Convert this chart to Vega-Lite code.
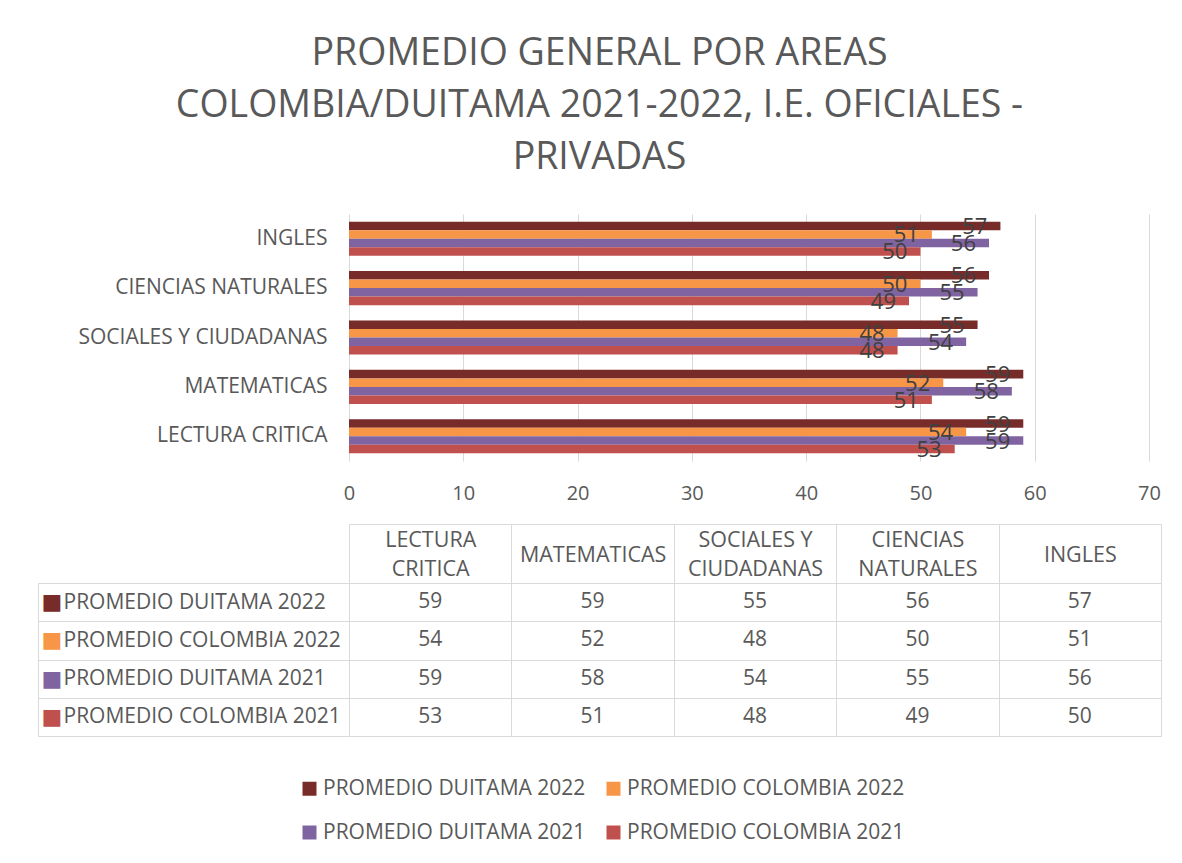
{
  "$schema": "https://vega.github.io/schema/vega-lite/v6.json",
  "padding": {"left": 37, "top": 34, "right": 10, "bottom": 10},
  "background": "white",
  "config": {
    "font": "Open Sans",
    "view": {"stroke": null},
    "axis": {"labelFont": "Open Sans"},
    "legend": {"labelFont": "Open Sans"}
  },
  "title": {
    "text": ["PROMEDIO GENERAL POR AREAS", "COLOMBIA/DUITAMA 2021-2022, I.E. OFICIALES -", "PRIVADAS"],
    "fontSize": 37.5,
    "font": "Open Sans",
    "fontWeight": "normal",
    "color": "#595959",
    "lineHeight": 52,
    "anchor": "middle",
    "offset": 38
  },
  "data": {
    "values": [
      {"area": "LECTURA CRITICA", "series": "PROMEDIO DUITAMA 2022", "value": 59},
      {"area": "LECTURA CRITICA", "series": "PROMEDIO COLOMBIA 2022", "value": 54},
      {"area": "LECTURA CRITICA", "series": "PROMEDIO DUITAMA 2021", "value": 59},
      {"area": "LECTURA CRITICA", "series": "PROMEDIO COLOMBIA 2021", "value": 53},
      {"area": "MATEMATICAS", "series": "PROMEDIO DUITAMA 2022", "value": 59},
      {"area": "MATEMATICAS", "series": "PROMEDIO COLOMBIA 2022", "value": 52},
      {"area": "MATEMATICAS", "series": "PROMEDIO DUITAMA 2021", "value": 58},
      {"area": "MATEMATICAS", "series": "PROMEDIO COLOMBIA 2021", "value": 51},
      {"area": "SOCIALES Y CIUDADANAS", "series": "PROMEDIO DUITAMA 2022", "value": 55},
      {"area": "SOCIALES Y CIUDADANAS", "series": "PROMEDIO COLOMBIA 2022", "value": 48},
      {"area": "SOCIALES Y CIUDADANAS", "series": "PROMEDIO DUITAMA 2021", "value": 54},
      {"area": "SOCIALES Y CIUDADANAS", "series": "PROMEDIO COLOMBIA 2021", "value": 48},
      {"area": "CIENCIAS NATURALES", "series": "PROMEDIO DUITAMA 2022", "value": 56},
      {"area": "CIENCIAS NATURALES", "series": "PROMEDIO COLOMBIA 2022", "value": 50},
      {"area": "CIENCIAS NATURALES", "series": "PROMEDIO DUITAMA 2021", "value": 55},
      {"area": "CIENCIAS NATURALES", "series": "PROMEDIO COLOMBIA 2021", "value": 49},
      {"area": "INGLES", "series": "PROMEDIO DUITAMA 2022", "value": 57},
      {"area": "INGLES", "series": "PROMEDIO COLOMBIA 2022", "value": 51},
      {"area": "INGLES", "series": "PROMEDIO DUITAMA 2021", "value": 56},
      {"area": "INGLES", "series": "PROMEDIO COLOMBIA 2021", "value": 50}
    ]
  },
  "spacing": 20,
  "vconcat": [
    {
      "width": 800,
      "height": 247,
      "encoding": {
        "y": {
          "field": "area", "type": "nominal",
          "sort": ["INGLES", "CIENCIAS NATURALES", "SOCIALES Y CIUDADANAS", "MATEMATICAS", "LECTURA CRITICA"],
          "scale": {"paddingInner": 0.31, "paddingOuter": 0.155},
          "axis": {"title": null, "ticks": false, "domain": false, "labelFontSize": 21, "labelColor": "#595959", "labelPadding": 22, "labelLimit": 400}
        },
        "yOffset": {
          "field": "series", "type": "nominal",
          "sort": ["PROMEDIO DUITAMA 2022", "PROMEDIO COLOMBIA 2022", "PROMEDIO DUITAMA 2021", "PROMEDIO COLOMBIA 2021"]
        },
        "x": {
          "field": "value", "type": "quantitative",
          "scale": {"domain": [0, 70]},
          "axis": {"title": null, "values": [0, 10, 20, 30, 40, 50, 60, 70], "grid": true, "gridColor": "#D9D9D9", "domain": false, "ticks": false, "labelFlush": false, "labelFontSize": 20, "labelColor": "#595959", "labelPadding": 22}
        }
      },
      "layer": [
        {
          "mark": {"type": "bar"},
          "encoding": {
            "color": {
              "field": "series", "type": "nominal",
              "scale": {
                "domain": ["PROMEDIO DUITAMA 2022", "PROMEDIO COLOMBIA 2022", "PROMEDIO DUITAMA 2021", "PROMEDIO COLOMBIA 2021"],
                "range": ["#772C2A", "#F79646", "#8064A2", "#C0504D"]
              },
              "legend": {
                "title": null, "orient": "none", "legendX": -50, "legendY": 564,
                "columns": 2, "direction": "horizontal", "symbolType": "square", "symbolSize": 196,
                "symbolStrokeWidth": 0, "labelFontSize": 21, "labelColor": "#595959", "labelLimit": 0,
                "columnPadding": 17, "rowPadding": 22, "labelOffset": 3
              }
            }
          }
        },
        {
          "mark": {"type": "text", "align": "right", "dx": -13, "dy": 1, "fontSize": 22, "color": "#404040"},
          "encoding": {"text": {"field": "value", "type": "quantitative"}}
        }
      ]
    },
    {
      "width": 812,
      "height": 153,
      "layer": [
        {
          "mark": {"type": "text", "fontSize": 21, "color": "#595959"},
          "encoding": {
            "x": {
              "field": "area", "type": "nominal",
              "sort": ["LECTURA CRITICA", "MATEMATICAS", "SOCIALES Y CIUDADANAS", "CIENCIAS NATURALES", "INGLES"],
              "scale": {"paddingInner": 0, "paddingOuter": 0},
              "axis": {
                "orient": "top", "title": null, "domain": false, "tickBand": "extent", "ticks": true, "tickSize": 59,
                "tickColor": "#D9D9D9", "grid": true, "gridColor": "#D9D9D9", "labelAngle": 0,
                "labelExpr": "datum.value == 'LECTURA CRITICA' ? ['LECTURA', 'CRITICA'] : datum.value == 'SOCIALES Y CIUDADANAS' ? ['SOCIALES Y', 'CIUDADANAS'] : datum.value == 'CIENCIAS NATURALES' ? ['CIENCIAS', 'NATURALES'] : datum.value",
                "labelFontSize": 21.5, "labelColor": "#595959", "labelPadding": -16,
                "labelBaseline": {"condition": {"test": "datum.value == 'MATEMATICAS' || datum.value == 'INGLES'", "value": "line-top"}, "value": "middle"},
                "labelLineHeight": 29, "labelLimit": 0
              }
            },
            "y": {
              "field": "series", "type": "nominal",
              "sort": ["PROMEDIO DUITAMA 2022", "PROMEDIO COLOMBIA 2022", "PROMEDIO DUITAMA 2021", "PROMEDIO COLOMBIA 2021"],
              "scale": {"paddingInner": 0, "paddingOuter": 0},
              "axis": {
                "orient": "left", "title": null, "domain": false, "tickBand": "extent", "ticks": true, "tickSize": 311,
                "tickColor": "#D9D9D9", "grid": true, "gridColor": "#D9D9D9",
                "labelAlign": "left", "labelPadding": -25, "labelFontSize": 21, "labelColor": "#595959", "labelLimit": 0
              }
            },
            "text": {"field": "value", "type": "quantitative"}
          }
        },
        {
          "mark": {"type": "text", "fontSize": 21, "opacity": 0},
          "encoding": {
            "x": {
              "field": "area", "type": "nominal",
              "sort": ["LECTURA CRITICA", "MATEMATICAS", "SOCIALES Y CIUDADANAS", "CIENCIAS NATURALES", "INGLES"],
              "axis": {"orient": "top", "title": null, "offset": 59, "domain": true, "domainColor": "#D9D9D9", "ticks": false, "labels": false, "grid": false}
            },
            "y": {
              "field": "series", "type": "nominal",
              "sort": ["PROMEDIO DUITAMA 2022", "PROMEDIO COLOMBIA 2022", "PROMEDIO DUITAMA 2021", "PROMEDIO COLOMBIA 2021"],
              "axis": {
                "orient": "left", "title": null, "offset": 311, "domain": true, "domainColor": "#D9D9D9", "ticks": false, "grid": false,
                "labelExpr": "'■'", "labelFont": "DejaVu Sans", "labelFontSize": 22, "labelAlign": "left", "labelPadding": -3,
                "labelColor": {
                  "condition": [
                    {"test": "datum.value === 'PROMEDIO DUITAMA 2022'", "value": "#772C2A"},
                    {"test": "datum.value === 'PROMEDIO COLOMBIA 2022'", "value": "#F79646"},
                    {"test": "datum.value === 'PROMEDIO DUITAMA 2021'", "value": "#8064A2"}
                  ],
                  "value": "#C0504D"
                }
              }
            },
            "text": {"field": "value", "type": "quantitative"}
          }
        }
      ],
      "resolve": {"axis": {"x": "independent", "y": "independent"}}
    }
  ]
}
